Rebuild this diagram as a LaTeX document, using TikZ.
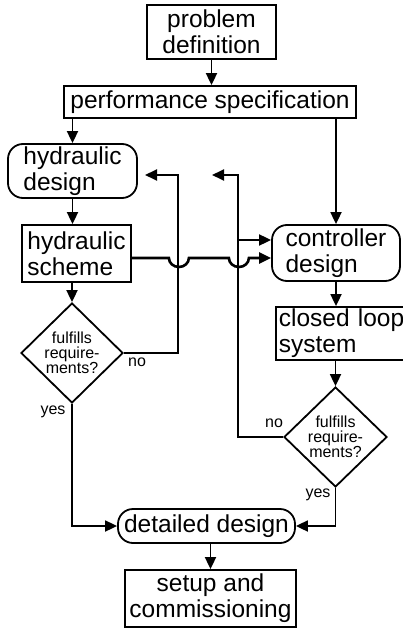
\documentclass[tikz,border=0pt]{standalone}
\usepackage{fontspec}
\setmainfont{Liberation Sans}
\usetikzlibrary{arrows.meta,shapes.geometric,calc}

\begin{document}
\begin{tikzpicture}[x=1pt, y=-1pt, line width=1.8pt,
  bloque/.style={draw, inner sep=0pt, align=center,
    font=\fontsize{24.5}{26}\selectfont},
  redondo/.style={bloque, rounded corners=15pt},
  rombo/.style={draw, diamond, inner sep=0pt, align=center,
    minimum width=102pt, minimum height=100pt,
    font=\fontsize{16}{15}\selectfont},
  etiqueta/.style={inner sep=0pt, font=\fontsize{16}{16}\selectfont},
  flecha/.style={-{Triangle[length=12pt, width=11pt]}},
]
  \useasboundingbox (0,0) rectangle (403,628);
  % Bloques
  \node[bloque, minimum width=129pt, minimum height=54pt] (prob) at (211.5,32)
    {problem\\definition};
  \node[bloque, minimum width=292pt, minimum height=32pt] (perf) at (210,102)
    {performance specification};
  \node[redondo, align=left, minimum width=129pt, minimum height=54pt] (hdes)
    at (72.5,171) {hydraulic\\design};
  \node[bloque, align=left, minimum width=109pt, minimum height=57pt] (hsch)
    at (76.5,253.5) {hydraulic\\scheme};
  \node[rombo] (ldia) at (72,353) {fulfills\\require-\\ments?};
  \node[redondo, align=left, minimum width=128pt, minimum height=56pt] (cdes)
    at (336,253) {controller\\design};
  \node[bloque, anchor=west, align=left, text width=127pt, inner xsep=3pt,
    minimum height=53pt] (cls) at (275,333.5) {closed loop\\system};
  \node[rombo, minimum width=103pt] (rdia) at (335.5,437)
    {fulfills\\require-\\ments?};
  \node[bloque, rounded corners=15pt, minimum width=177pt, minimum height=34pt]
    (det) at (206.5,526) {detailed design};
  \node[bloque, minimum width=171pt, minimum height=57pt] (setup)
    at (210.5,598.5) {setup and\\commissioning};
  % Etiquetas
  \node[etiqueta] (noA) at (137,362) {no};
  \node[etiqueta] (yesA) at (53,412) {yes};
  \node[etiqueta] (noB) at (274,423) {no};
  \node[etiqueta] (yesB) at (318,495) {yes};
  % Flujo principal
  \draw[flecha] (prob.south) -- (prob.south |- perf.north);
  \draw[flecha] (hdes.north |- perf.south) -- (hdes.north);
  \draw[flecha] (cdes.north |- perf.south) -- (cdes.north);
  \draw[flecha] (hdes.south) -- (hdes.south |- hsch.north);
  \draw[flecha] (ldia.north |- hsch.south) -- (ldia.north);
  \draw[flecha] (cdes.south) -- (cdes.south |- cls.north);
  \draw[flecha] (rdia.north |- cls.south) -- (rdia.north);
  \draw[flecha] (ldia.south) |- (det.west);
  \draw[flecha] (rdia.south) |- (det.east);
  \draw[flecha] (setup.north |- det.south) -- (setup.north);
  % Retornos
  \coordinate (codoA) at (178,175);
  \coordinate (retA) at (145,175);
  \coordinate (codoB) at (238,175);
  \coordinate (retB) at (212,175);
  \coordinate (ramal) at (238,240);
  \draw[flecha] (ldia.east) -| (codoA) -- (retA);
  \draw[flecha] (rdia.west) -| (codoB) -- (retB);
  \draw[flecha] (ramal) -- (ramal -| cdes.west);
  % Esquema con saltos
  \draw[flecha, line width=2.6pt] ([yshift=-4.5pt]hsch.east) -- ++(37,0)
    arc[start angle=180, end angle=0, x radius=10, y radius=9] -- ++(40,0)
    arc[start angle=180, end angle=0, x radius=10, y radius=9]
    -- ([yshift=-5pt]cdes.west);
\end{tikzpicture}
\end{document}
